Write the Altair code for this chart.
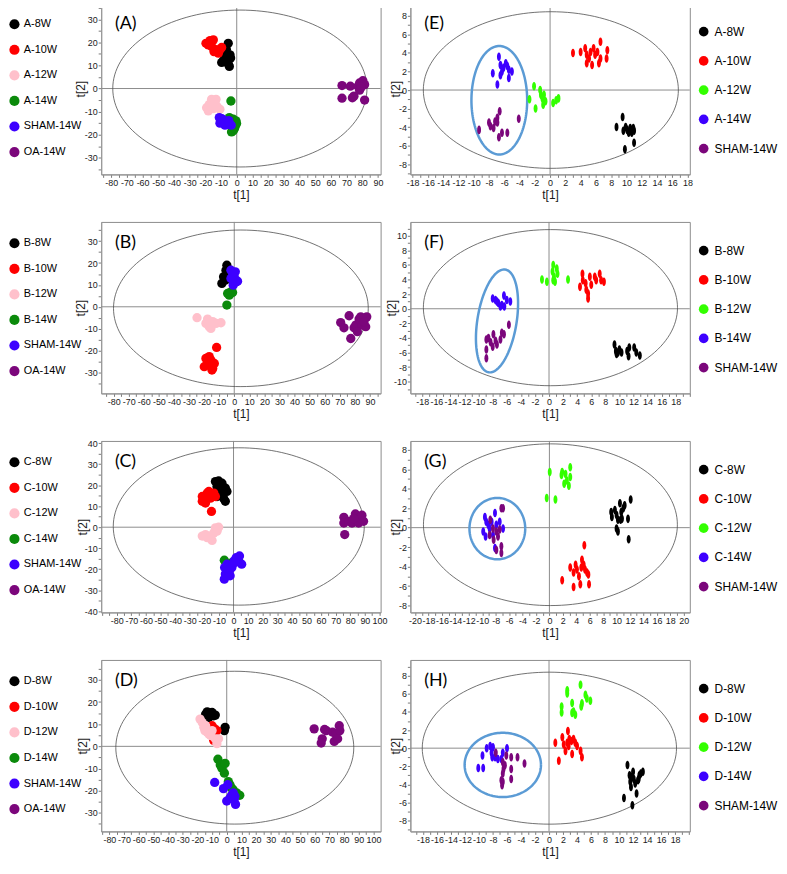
import altair as alt
import numpy as np
import pandas as pd

# ---------------- data ----------------
LEFT_COLORS = ["#000000", "#ff0000", "#ffc0cb", "#0b8a0b", "#3d00ff", "#7b067b"]
RIGHT_COLORS = ["#000000", "#ff0000", "#33ff00", "#3d00ff", "#7b067b"]

# Panel A
A_GROUPS = ["A-8W", "A-10W", "A-12W", "A-14W", "SHAM-14W", "OA-14W"]
A_X = {
    "A-8W": [-5.4, -6.6, -4.3, -6.9, -3.9, -8.2, -9.6, -5.4, -4.7, -7.1],
    "A-10W": [-19.6, -17.0, -14.9, -16.0, -13.2, -10.7, -11.7, -14.5, -18.1, -9.6],
    "A-12W": [-19.2, -17.5, -16.0, -13.9, -12.4, -10.7, -14.9, -18.1, -13.2],
    "A-14W": [-3.7, -2.2, -0.5, -0.9, -2.2, -3.3, -4.3, -1.4, -4.7, -0.1],
    "SHAM-14W": [-11.1, -10.7, -8.6, -6.5, -4.8, -3.5, -9.6, -7.5, -5.1],
    "OA-14W": [67.1, 67.1, 72.4, 73.7, 74.7, 77.3, 78.3, 78.3, 80.4, 81.5, 81.5, 79.4],
}
A_Y = {
    "A-8W": [19.6, 17.0, 14.6, 14.2, 13.2, 12.5, 11.3, 10.7, 9.6, 12.8],
    "A-10W": [19.6, 20.8, 21.1, 18.2, 16.8, 16.8, 15.3, 16.0, 18.9, 17.8],
    "A-12W": [-8.3, -6.9, -4.7, -6.2, -7.9, -9.0, -8.7, -9.7, -4.7],
    "A-14W": [-5.4, -13.3, -14.0, -16.2, -18.3, -18.8, -15.5, -17.3, -12.6, -15.2],
    "SHAM-14W": [-12.6, -15.0, -13.6, -14.8, -15.6, -15.9, -13.0, -15.9, -13.9],
    "OA-14W": [1.3, -4.2, 1.0, -4.0, -3.3, 1.0, 2.4, -0.7, 3.4, 1.7, -5.0, 0.7],
}
A_HOTELLING = [2.0, 0.0, 81.0, 34.0]

# Panel B
B_GROUPS = ["B-8W", "B-10W", "B-12W", "B-14W", "SHAM-14W", "OA-14W"]
B_X = {
    "B-8W": [-4.9, -7.1, -8.2, -5.5, -3.3, -4.4, -6.0],
    "B-10W": [-11.7, -16.6, -18.8, -19.9, -16.6, -14.3, -13.2, -15.5, -17.7, -14.8],
    "B-12W": [-24.7, -17.7, -16.6, -14.3, -12.1, -8.8, -15.5, -18.8],
    "B-14W": [-4.4, -2.2, -1.1, -4.9, -3.3],
    "SHAM-14W": [-2.2, -1.1, 0.0, 1.1, 2.2, -0.7, -2.2, 0.7],
    "OA-14W": [70.6, 72.8, 76.2, 79.5, 80.6, 82.8, 83.9, 85.0, 87.2, 87.9, 77.3, 81.7, 86.1],
}
B_Y = {
    "B-8W": [19.0, 13.7, 10.7, 16.7, 16.0, 12.9, 12.2],
    "B-10W": [-18.6, -22.8, -23.6, -27.4, -26.6, -28.2, -25.9, -24.4, -25.9, -28.9],
    "B-12W": [-5.0, -5.6, -9.1, -6.8, -7.6, -7.3, -9.9, -7.6],
    "B-14W": [6.1, 6.8, 6.5, 0.8, 5.3],
    "SHAM-14W": [16.7, 15.2, 13.7, 11.4, 11.7, 9.9, 12.9, 16.0],
    "OA-14W": [-7.2, -9.6, -4.1, -9.6, -8.4, -5.6, -4.6, -8.4, -9.1, -4.6, -14.5, -11.4, -6.8],
}
B_HOTELLING = [4.4, -0.7, 84.5, 35.8]

# Panel C
C_GROUPS = ["C-8W", "C-10W", "C-12W", "C-14W", "SHAM-14W", "OA-14W"]
C_X = {
    "C-8W": [-12.4, -10.2, -11.3, -7.9, -5.6, -4.5, -6.8, -5.6, -9.0, -11.3],
    "C-10W": [-21.4, -20.3, -18.0, -16.9, -15.8, -14.7, -13.5, -12.4, -19.2, -15.1, -21.4],
    "C-12W": [-21.4, -19.2, -15.8, -14.7, -13.5, -12.4, -11.3, -10.2, -18.0],
    "C-14W": [-6.3, -1.1, -4.5, -2.3, 3.4],
    "SHAM-14W": [-6.1, -5.6, -6.3, -3.4, -2.3, -1.1, 0.5, 1.8, 4.1, 5.6, -4.5, -2.3, 1.1],
    "OA-14W": [75.6, 75.6, 76.2, 79.0, 81.2, 83.5, 84.6, 85.7, 86.8, 88.0, 89.1, 82.3],
}
C_Y = {
    "C-8W": [21.7, 22.0, 19.3, 20.9, 18.6, 17.0, 13.8, 12.3, 16.2, 14.6],
    "C-10W": [14.6, 12.3, 16.2, 17.0, 13.8, 15.4, 16.2, 14.6, 11.5, 7.5, 12.3],
    "C-12W": [-4.2, -3.5, -4.2, -6.3, -2.7, -0.3, -1.9, 0.0, -5.0],
    "C-14W": [-15.7, -16.8, -19.2, -18.4, -15.7],
    "SHAM-14W": [-19.2, -22.3, -24.7, -20.8, -23.1, -19.2, -16.0, -14.5, -13.7, -17.6, -17.6, -20.0, -16.8],
    "OA-14W": [4.7, 2.0, -3.5, 2.8, 2.0, 6.3, 3.6, 2.0, 4.4, 5.7, 2.8, 4.1],
}
C_HOTELLING = [3.6, 0.35, 86.0, 37.4]

# Panel D
D_GROUPS = ["D-8W", "D-10W", "D-12W", "D-14W", "SHAM-14W", "OA-14W"]
D_X = {
    "D-8W": [-13.3, -10.0, -8.9, -12.2, -14.4, -1.1, -1.6, -7.8, -11.1],
    "D-10W": [-10.0, -8.2, -7.8, -8.9, -6.7],
    "D-12W": [-18.2, -16.7, -15.6, -14.4, -13.3, -12.2, -11.1, -10.0, -7.8, -6.7, -5.6, -14.9],
    "D-14W": [-6.0, -4.4, -3.3, -1.1, -1.6, 1.1, 3.3, 4.4, 6.7, 8.9, 2.2],
    "SHAM-14W": [-8.2, -2.2, 0.7, 4.4, 5.6, 2.2, 0.0, 6.0, 3.3, 5.1],
    "OA-14W": [59.6, 66.7, 67.8, 65.1, 64.4, 72.2, 74.4, 73.3, 76.7, 77.1, 75.6],
}
D_Y = {
    "D-8W": [15.6, 15.3, 13.8, 13.0, 14.5, 8.6, 7.1, 14.1, 14.5],
    "D-10W": [9.3, 7.9, 6.4, 2.7, 7.1],
    "D-12W": [12.3, 10.8, 8.6, 9.3, 6.4, 5.6, 4.9, 7.1, 3.4, 1.2, 3.4, 7.1],
    "D-14W": [-5.8, -8.4, -9.9, -7.7, -12.1, -15.9, -18.8, -19.6, -21.0, -22.1, -17.3],
    "SHAM-14W": [-16.3, -19.1, -17.3, -21.0, -22.5, -23.3, -24.7, -26.2, -22.1, -24.0],
    "OA-14W": [7.9, 7.6, 7.1, 3.4, 1.5, 6.4, 5.6, 2.2, 9.3, 7.1, 3.4],
}
D_HOTELLING = [5.5, -0.6, 81.1, 34.5]

# Panel E
E_GROUPS = ["A-8W", "A-10W", "A-12W", "A-14W", "SHAM-14W"]
E_X = {
    "A-8W": [9.5, 8.7, 9.6, 9.9, 10.1, 10.5, 10.9, 11.0, 11.0, 9.8, 10.7, 10.3],
    "A-10W": [3.0, 4.0, 4.6, 4.8, 5.1, 5.3, 5.5, 5.7, 5.9, 6.2, 6.6, 6.6, 7.5, 7.4, 4.8, 6.4],
    "A-12W": [-2.1, -2.7, -1.9, -1.3, -1.0, -0.8, -0.6, -0.9, 0.4, 0.8, 1.1, -1.2],
    "A-14W": [-6.7, -6.5, -7.5, -6.9, -6.3, -5.8, -5.6, -5.4, -5.0, -6.5, -6.1, -5.4],
    "SHAM-14W": [-9.3, -8.0, -7.8, -7.2, -6.9, -6.6, -6.3, -5.6, -6.7, -4.1, -7.4, -6.9],
}
E_Y = {
    "A-8W": [-2.9, -4.0, -4.4, -4.0, -4.3, -4.1, -4.1, -4.4, -5.7, -6.4, -4.6, -4.6],
    "A-10W": [4.0, 4.1, 4.5, 3.8, 3.4, 4.1, 2.7, 4.5, 3.8, 4.1, 5.2, 3.4, 4.3, 3.4, 2.9, 2.9],
    "A-12W": [0.4, -1.0, -2.0, 0.0, -0.9, -0.5, -1.2, -1.6, -1.4, -1.1, -0.9, -0.5],
    "A-14W": [3.6, 2.7, 1.8, 0.6, 2.0, 2.9, 2.6, 2.2, 2.0, 1.6, 2.4, 1.3],
    "SHAM-14W": [-4.3, -3.5, -3.9, -3.4, -3.0, -2.3, -4.6, -4.6, -5.1, -3.1, -4.1, -3.5],
}
E_HOTELLING = [0.1, 0.0, 16.7, 8.45]
E_CIRCLED = [-6.65, -1.1, 3.65, 0.0, 0.0, 5.85]

# Panel F
F_GROUPS = ["B-8W", "B-10W", "B-12W", "B-14W", "SHAM-14W"]
F_X = {
    "B-8W": [9.3, 9.5, 9.6, 10.0, 10.3, 11.1, 11.4, 11.3, 12.1, 12.4, 12.9, 9.8],
    "B-10W": [4.75, 4.4, 4.8, 5.2, 5.3, 5.55, 5.8, 6.0, 6.5, 6.7, 7.2, 7.4, 7.8, 5.55],
    "B-12W": [-1.0, -0.3, 0.6, 0.5, 0.7, 0.85, 1.1, 1.2, 2.7, 0.6],
    "B-14W": [-8.0, -7.6, -7.2, -6.9, -6.7, -6.4, -6.0, -5.5, -7.4, -6.35],
    "SHAM-14W": [-8.9, -8.6, -8.3, -7.9, -7.6, -7.4, -6.9, -6.7, -6.4, -5.7, -8.9, -8.9, -8.0],
}
F_Y = {
    "B-8W": [-4.9, -5.8, -6.2, -5.6, -6.0, -5.8, -5.3, -6.5, -5.3, -6.0, -6.4, -6.0],
    "B-10W": [4.8, 3.0, 3.9, 3.5, 2.6, 1.4, 4.4, 3.3, 4.4, 3.9, 4.8, 3.9, 3.7, 2.1],
    "B-12W": [4.0, 3.7, 6.0, 5.1, 4.4, 3.7, 5.5, 4.8, 4.0, 3.9],
    "B-14W": [1.4, 1.2, 0.8, 0.3, 0.5, 1.8, 1.2, 1.0, 1.0, 0.3],
    "SHAM-14W": [-4.2, -4.0, -4.6, -3.5, -4.4, -4.9, -4.2, -3.3, -3.5, -2.2, -5.6, -6.8, -5.2],
}
F_HOTELLING = [0.2, 0.15, 18.05, 10.7]
F_CIRCLED = [-7.39, -1.67, 1.18, 7.04, 2.75, -0.42]

# Panel G
G_GROUPS = ["C-8W", "C-10W", "C-12W", "C-14W", "SHAM-14W"]
G_X = {
    "C-8W": [9.2, 9.3, 9.75, 10.0, 10.2, 10.5, 10.7, 11.0, 10.6, 10.8, 11.2, 11.7, 12.1, 10.0, 10.2, 11.8],
    "C-10W": [5.2, 1.9, 3.1, 3.6, 3.9, 4.1, 4.4, 4.6, 4.85, 5.1, 5.3, 5.6, 5.8, 3.6, 5.9, 4.75],
    "C-12W": [0.05, -0.4, 0.9, 1.8, 1.9, 2.4, 2.6, 2.9, 2.2, 3.1, 3.1],
    "C-14W": [-9.6, -9.85, -9.5, -9.1, -8.9, -8.6, -8.4, -8.1, -7.9, -7.4, -6.9, -8.1, -9.4],
    "SHAM-14W": [-8.8, -8.4, -7.9, -7.65, -7.4, -7.15, -6.9, -7.15, -7.15, -7.9, -8.9, -8.3],
}
G_Y = {
    "C-8W": [1.6, 1.1, 1.8, 1.3, 0.8, 2.5, 1.6, 2.0, 0.8, 0.9, 2.3, 0.9, 2.9, -0.1, -0.4, -1.2],
    "C-10W": [-1.8, -5.4, -4.1, -4.6, -3.8, -4.3, -5.0, -5.8, -3.3, -3.8, -4.3, -4.6, -4.8, -6.1, -5.8, -4.1],
    "C-12W": [5.7, 3.05, 2.9, 5.4, 5.7, 5.5, 4.85, 4.3, 4.5, 6.2, 5.2],
    "C-14W": [1.1, -0.4, -0.9, 0.3, -0.1, 0.6, -0.75, 1.5, 0.3, 0.6, -0.1, -2.1, 0.6],
    "SHAM-14W": [0.8, -0.1, -0.4, -0.9, -0.2, 2.0, 2.0, -1.9, -2.6, -2.3, -0.75, -1.25],
}
G_HOTELLING = [0.15, 0.3, 18.9, 8.3]
G_CIRCLED = [-7.75, -0.1, 4.15, 0.0, 0.0, 3.15]

# Panel H
H_GROUPS = ["D-8W", "D-10W", "D-12W", "D-14W", "SHAM-14W"]
H_X = {
    "D-8W": [10.7, 11.2, 11.5, 11.6, 11.7, 11.8, 12.0, 12.1, 12.3, 12.5, 12.7, 12.9, 13.1, 13.4, 11.9, 12.8],
    "D-10W": [0.9, 1.4, 1.9, 2.1, 2.35, 2.6, 2.7, 2.9, 3.2, 3.5, 3.75, 4.0, 4.5, 4.7, 3.3, 2.8],
    "D-12W": [1.8, 1.8, 2.6, 2.6, 3.3, 3.5, 3.75, 4.5, 4.7, 4.6, 5.2, 5.4, 5.9, 3.3],
    "D-14W": [-10.1, -9.4, -9.5, -8.9, -8.4, -8.2, -8.0, -7.7, -7.3, -6.8, -6.6, -6.0, -8.1],
    "SHAM-14W": [-7.6, -6.6, -6.5, -6.6, -6.6, -6.7, -6.3, -6.1, -5.4, -5.4, -5.4, -4.5, -3.5, -6.8],
}
H_Y = {
    "D-8W": [-5.5, -1.85, -3.0, -3.7, -4.3, -3.2, -2.6, -3.4, -3.9, -5.0, -3.55, -3.0, -2.8, -2.6, -6.3, -3.4],
    "D-10W": [0.6, -1.4, 1.2, 0.4, -0.3, 0.6, 1.9, 1.0, 0.8, 1.0, 0.6, 0.25, -0.3, -1.0, -0.65, 0.25],
    "D-12W": [4.6, 3.95, 6.4, 6.05, 5.0, 4.05, 3.7, 7.0, 4.95, 4.6, 5.9, 5.5, 5.25, 3.9],
    "D-14W": [-2.2, -2.2, -0.8, 0.0, 0.25, -0.5, 0.1, -1.0, -1.2, -1.2, -0.5, 0.0, -1.0],
    "SHAM-14W": [-0.5, -1.55, -2.3, -2.8, -3.7, -4.1, -1.9, -0.8, -1.0, -2.3, -3.4, -1.0, -1.7, -3.55],
}
H_HOTELLING = [0.05, 0.0, 18.15, 8.4]
H_CIRCLED = [-6.6, -1.85, 5.45, 0.0, 0.0, 3.55]

# axis domains
A_XDOM, A_YDOM = [-86.4, 91.7], [-37.2, 37.1]
B_XDOM, B_YDOM = [-88.3, 97.1], [-39.6, 38.8]
C_XDOM, C_YDOM = [-90.7, 100.8], [-40.5, 41.0]
D_XDOM, D_YDOM = [-85.6, 104.9], [-38.4, 39.0]
E_XDOM, E_YDOM = [-18.3, 18.3], [-9.1, 9.4]
F_XDOM, F_YDOM = [-19.7, 20.0], [-11.6, 11.9]
G_XDOM, G_YDOM = [-20.7, 20.9], [-8.7, 8.9]
H_XDOM, H_YDOM = [-19.8, 20.1], [-9.2, 9.75]

# labelled tick range [first, last] for each axis
A_XLAB, A_YLAB = [-80, 90], [-30, 30]
B_XLAB, B_YLAB = [-80, 90], [-40, 30]
C_XLAB, C_YLAB = [-80, 100], [-40, 40]
D_XLAB, D_YLAB = [-80, 100], [-30, 30]
E_XLAB, E_YLAB = [-18, 18], [-8, 8]
F_XLAB, F_YLAB = [-18, 18], [-10, 10]
G_XLAB, G_YLAB = [-20, 20], [-8, 8]
H_XLAB, H_YLAB = [-18, 18], [-8, 8]

# ---------------- helpers ----------------
W, H = 282, 173
T = np.linspace(0, 2 * np.pi, 145)
ELLIPSE_PATH = "M0,-1A0.46,1,0,1,1,0,1A0.46,1,0,1,1,0,-1Z"


def ellipse_df(p):
    cx, cy, ux, uy, vx, vy = p
    return pd.DataFrame({
        "x": cx + ux * np.cos(T) + vx * np.sin(T),
        "y": cy + uy * np.cos(T) + vy * np.sin(T),
        "o": np.arange(len(T)),
    })


def tick_values(lo, hi, step):
    return [v for v in range(int(np.floor(lo)), int(np.ceil(hi)) + 1)
            if v % step == 0 and lo <= v <= hi]


def label_expr(major, lab):
    return (f"abs(datum.value % {major}) < 0.001 && datum.value >= {lab[0]} && "
            f"datum.value <= {lab[1]} ? '' + datum.value : ''")


def panel(letter, groups, xs, ys, colors, hot, circled, xdom, ydom, xlab, ylab,
          xmajor, xminor, ymajor, yminor, left, ytitle_x):
    pts = pd.DataFrame([{"x": a, "y": b, "group": g}
                        for g in groups for a, b in zip(xs[g], ys[g])])
    xvals = tick_values(xdom[0], xdom[1], xminor)
    yvals = tick_values(ydom[0], ydom[1], yminor)
    X = alt.X("x:Q", scale=alt.Scale(domain=xdom, nice=False, zero=False),
              axis=alt.Axis(values=xvals, title="t[1]", titlePadding=2,
                            labelExpr=label_expr(xmajor, xlab)))
    Y = alt.Y("y:Q", scale=alt.Scale(domain=ydom, nice=False, zero=False),
              axis=alt.Axis(values=yvals, title="t[2]", titleX=ytitle_x,
                            labelExpr=label_expr(ymajor, ylab)))

    vrule = alt.Chart(pd.DataFrame({"x": [0]})).mark_rule(
        color="#8c8c8c", strokeWidth=1).encode(x=X)
    hrule = alt.Chart(pd.DataFrame({"y": [0]})).mark_rule(
        color="#8c8c8c", strokeWidth=1).encode(y=Y)
    cx, cy, rx, ry = hot
    hot_line = alt.Chart(ellipse_df([cx, cy, rx, 0, 0, ry])).mark_line(
        color="#4d4d4d", strokeWidth=0.8).encode(x=X, y=Y, order="o:Q")
    layers = [vrule, hrule, hot_line]
    if circled is not None:
        layers.append(alt.Chart(ellipse_df(circled)).mark_line(
            color="#5b9bd5", strokeWidth=2.5).encode(x=X, y=Y, order="o:Q"))

    if left:
        legend = alt.Legend(orient="none", legendX=-93, legendY=16, title=None,
                            direction="vertical", symbolType="circle", symbolSize=105,
                            rowPadding=13.8, labelOffset=4, padding=0,
                            labelFontSize=11)
        mark = alt.Chart(pts).mark_point(filled=True, opacity=1, size=88, shape="circle")
    else:
        legend = alt.Legend(orient="none", legendX=290, legendY=23, title=None,
                            direction="vertical", symbolType="circle", symbolSize=95,
                            rowPadding=17.5, labelOffset=5, padding=0,
                            labelFontSize=12)
        mark = alt.Chart(pts).mark_point(filled=True, opacity=1, size=74, shape=ELLIPSE_PATH)
    points = mark.encode(
        x=X, y=Y,
        color=alt.Color("group:N", scale=alt.Scale(domain=groups, range=colors),
                        sort=groups, legend=legend),
    )
    layers.append(points)
    txt = alt.Chart(pd.DataFrame({"t": [letter]})).mark_text(
        font="Lato", fontSize=18, align="left", baseline="middle", color="#000000"
    ).encode(text="t:N", x=alt.value(14), y=alt.value(21))
    layers.append(txt)
    return alt.layer(*layers).properties(width=W, height=H)


pA = panel("(A)", A_GROUPS, A_X, A_Y, LEFT_COLORS, A_HOTELLING, None, A_XDOM, A_YDOM,
           A_XLAB, A_YLAB, 10, 5, 10, 5, True, -14)
pB = panel("(B)", B_GROUPS, B_X, B_Y, LEFT_COLORS, B_HOTELLING, None, B_XDOM, B_YDOM,
           B_XLAB, B_YLAB, 10, 5, 10, 5, True, -14)
pC = panel("(C)", C_GROUPS, C_X, C_Y, LEFT_COLORS, C_HOTELLING, None, C_XDOM, C_YDOM,
           C_XLAB, C_YLAB, 10, 5, 10, 5, True, -12)
pD = panel("(D)", D_GROUPS, D_X, D_Y, LEFT_COLORS, D_HOTELLING, None, D_XDOM, D_YDOM,
           D_XLAB, D_YLAB, 10, 5, 10, 5, True, -12)
pE = panel("(E)", E_GROUPS, E_X, E_Y, RIGHT_COLORS, E_HOTELLING, E_CIRCLED, E_XDOM, E_YDOM,
           E_XLAB, E_YLAB, 2, 1, 2, 1, False, -8)
pF = panel("(F)", F_GROUPS, F_X, F_Y, RIGHT_COLORS, F_HOTELLING, F_CIRCLED, F_XDOM, F_YDOM,
           F_XLAB, F_YLAB, 2, 1, 2, 1, False, -12)
pG = panel("(G)", G_GROUPS, G_X, G_Y, RIGHT_COLORS, G_HOTELLING, G_CIRCLED, G_XDOM, G_YDOM,
           G_XLAB, G_YLAB, 2, 1, 2, 1, False, -8)
pH = panel("(H)", H_GROUPS, H_X, H_Y, RIGHT_COLORS, H_HOTELLING, H_CIRCLED, H_XDOM, H_YDOM,
           H_XLAB, H_YLAB, 2, 1, 2, 1, False, -8)

chart = alt.concat(
    pA, pE, pB, pF, pC, pG, pD, pH,
    columns=2, spacing={"row": 48, "column": 30}, bounds="flush",
).resolve_scale(
    x="independent", y="independent", color="independent"
).resolve_legend(color="independent").properties(
    padding={"left": 0, "top": -10, "right": 0, "bottom": 0}
).configure_view(
    stroke="#8c8c8c", strokeWidth=1
).configure_axis(
    grid=False, domainColor="#9a9a9a", domainWidth=1.2, tickColor="#7a7a7a", tickSize=3,
    labelFont="Liberation Sans", labelFontSize=9, labelColor="#1a1a1a", labelPadding=1,
    labelOverlap=False, labelFlush=False, labelBound=False,
    titleFont="Liberation Sans", titleFontSize=12, titleFontWeight="normal", titleColor="#1a1a1a",
).configure_legend(
    labelFont="Liberation Sans", labelColor="#000000", symbolStrokeWidth=0,
)

chart.save("out.html", embed_options={"renderer": "svg", "actions": False})
